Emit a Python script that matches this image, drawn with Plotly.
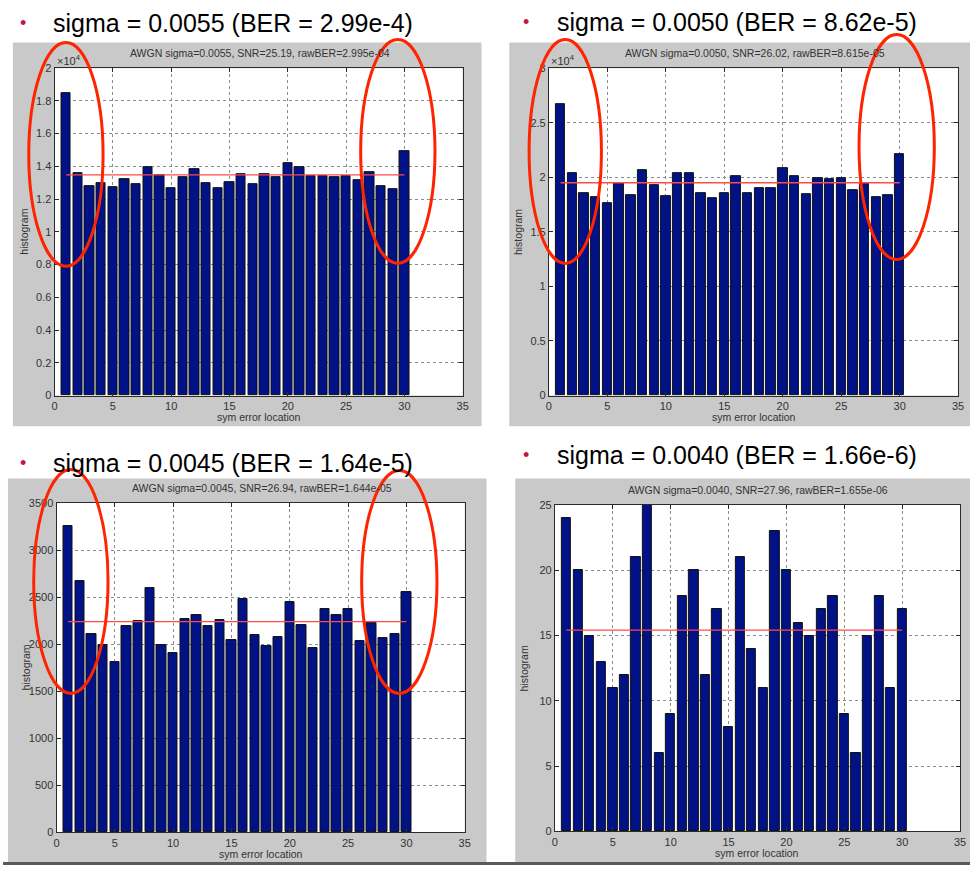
import plotly.graph_objects as go

W, H = 976, 871

# ---------------- data ----------------
positions = list(range(1, 31))

# sigma = 0.0055 (values shown in units of x10^4)
hist_s0055 = [1.85, 1.36, 1.278, 1.298, 1.272, 1.324, 1.292, 1.396, 1.346, 1.266,
              1.334, 1.386, 1.298, 1.27, 1.304, 1.354, 1.292, 1.354, 1.334, 1.418,
              1.398, 1.34, 1.34, 1.334, 1.34, 1.314, 1.362, 1.282, 1.258, 1.49]
# sigma = 0.0050 (values shown in units of x10^4)
hist_s0050 = [2.669, 2.04, 1.857, 1.815, 1.763, 1.95, 1.836, 2.07, 1.926, 1.827,
              2.034, 2.034, 1.857, 1.812, 1.857, 2.013, 1.857, 1.899, 1.905, 2.085,
              2.013, 1.842, 1.992, 1.98, 1.992, 1.884, 1.95, 1.821, 1.833, 2.209]
# sigma = 0.0045
hist_s0045 = [3258, 2667, 2107, 1995, 1810, 2195, 2247, 2600, 1995, 1907,
              2268, 2310, 2195, 2257, 2047, 2485, 2100, 1977, 2075, 2450,
              2208, 1963, 2373, 2310, 2373, 2037, 2222, 2065, 2110, 2555]
# sigma = 0.0040
hist_s0040 = [24, 20, 15, 13, 11, 12, 21, 25, 6, 9,
              18, 20, 12, 17, 8, 21, 14, 11, 23, 20,
              16, 15, 17, 18, 9, 6, 15, 18, 11, 17]

mean_levels = [1.348, 1.95, 2240, 15.42]

slide_titles = ["sigma = 0.0055 (BER = 2.99e-4)",
                "sigma = 0.0050 (BER = 8.62e-5)",
                "sigma = 0.0045 (BER = 1.64e-5)",
                "sigma = 0.0040 (BER = 1.66e-6)"]
plot_titles = ["AWGN sigma=0.0055, SNR=25.19, rawBER=2.995e-04",
               "AWGN sigma=0.0050, SNR=26.02, rawBER=8.615e-05",
               "AWGN sigma=0.0045, SNR=26.94, rawBER=1.644e-05",
               "AWGN sigma=0.0040, SNR=27.96, rawBER=1.655e-06"]
y_tops = [2, 3, 3500, 25]
y_steps = [0.2, 0.5, 500, 5]
x_top = 35
x_step = 5
x_label = "sym error location"
y_label = "histogram"
scale_label = "×10<sup>4</sup>"

series = [hist_s0055, hist_s0050, hist_s0045, hist_s0040]

# ---------------- layout geometry (pixels) ----------------
def px(x):
    return x / W

def py(y):
    return 1 - y / H

# plot areas: (left, right, top, bottom)
areas = [(52, 464, 63, 395), (551, 964, 63, 395), (54, 466, 504, 838), (557, 966, 506, 837)]
# gray figure panels
panels = [(10, 483, 37, 426), (511, 976, 37, 426), (5, 488, 479, 868), (517, 976, 479, 868)]
# slide title positions: (bullet x, text x, y)
title_pos = [(20, 48, 17), (528, 557, 16), (20, 48, 463), (528, 557, 455)]
# red ellipses (x0, x1, y0, y1)
ellipses = [(26, 101, 37, 264), (361, 436, 34, 261),
            (531, 604, 34, 261), (864, 940, 29, 257),
            (31, 106, 470, 697), (362, 438, 471, 697)]

FONT = "Liberation Sans, Arial, Helvetica, sans-serif"
BAR = "#001285"

fig = go.Figure()
shapes = []
annotations = []

for i in range(4):
    n = "" if i == 0 else str(i + 1)
    L, R, T, B = areas[i]
    fig.add_trace(go.Bar(x=positions, y=series[i], width=0.8,
                         marker=dict(color=BAR, line=dict(color="#111111", width=1)),
                         xaxis="x" + n, yaxis="y" + n, showlegend=False, hoverinfo="x+y"))
    fig.add_trace(go.Scatter(x=[positions[0], positions[-1]], y=[mean_levels[i]] * 2,
                             mode="lines", line=dict(color="#ff4a4a", width=1.3),
                             xaxis="x" + n, yaxis="y" + n, showlegend=False, hoverinfo="y"))
    common = dict(showgrid=True, gridcolor="#8c8c8c", griddash="dot", gridwidth=1,
                  showline=True, linecolor="#2b2b2b", linewidth=1, mirror="ticks",
                  ticks="inside", ticklen=4, tickcolor="#2b2b2b", zeroline=False,
                  tickfont=dict(size=11, color="#333333", family=FONT),
                  fixedrange=True, exponentformat="none", tick0=0)
    fig.update_layout(**{
        "xaxis" + n: dict(common, domain=[px(L), px(R)], range=[0, x_top], dtick=x_step,
                          anchor="y" + n),
        "yaxis" + n: dict(common, domain=[py(B), py(T)], range=[0, y_tops[i]], dtick=y_steps[i],
                          anchor="x" + n),
    })
    # gray panel and white plot area (drawn below gridlines)
    gx0, gx1, gy0, gy1 = panels[i]
    shapes.append(dict(type="rect", xref="paper", yref="paper", layer="below",
                       x0=px(gx0), x1=px(gx1), y0=py(gy1), y1=py(gy0),
                       fillcolor="#c9c9c9", line=dict(width=0)))
    shapes.append(dict(type="rect", xref="paper", yref="paper", layer="below",
                       x0=px(L), x1=px(R), y0=py(B), y1=py(T),
                       fillcolor="white", line=dict(width=0)))
    # slide titles
    bx, tx, ty = title_pos[i]
    annotations.append(dict(text="•", x=px(bx), y=py(ty), xref="paper", yref="paper",
                            xanchor="center", yanchor="middle", showarrow=False,
                            font=dict(size=18, color="#cc1440", family=FONT)))
    annotations.append(dict(text=slide_titles[i], x=px(tx), y=py(ty), xref="paper", yref="paper",
                            xanchor="left", yanchor="middle", showarrow=False,
                            font=dict(size=25, color="#000000", family=FONT)))
    # matlab title
    annotations.append(dict(text=plot_titles[i], x=px((L + R) / 2 + 1), y=py(T - 15),
                            xref="paper", yref="paper", xanchor="center", yanchor="middle",
                            showarrow=False, font=dict(size=10.5, color="#333333", family=FONT)))
    # axis labels
    annotations.append(dict(text=x_label, x=px((L + R) / 2), y=py(B + 22),
                            xref="paper", yref="paper", xanchor="center", yanchor="middle",
                            showarrow=False, font=dict(size=10.5, color="#333333", family=FONT)))
    annotations.append(dict(text=y_label, x=px(L - 31), y=py((T + B) / 2), textangle=-90,
                            xref="paper", yref="paper", xanchor="center", yanchor="middle",
                            showarrow=False, font=dict(size=10.5, color="#333333", family=FONT)))
    if i < 2:
        annotations.append(dict(text=scale_label, x=px(L), y=py(T - 8),
                                xref="paper", yref="paper", xanchor="left", yanchor="middle",
                                showarrow=False, font=dict(size=11, color="#333333", family=FONT)))

for (x0, x1, y0, y1) in ellipses:
    shapes.append(dict(type="circle", xref="paper", yref="paper", layer="above",
                       x0=px(x0), x1=px(x1), y0=py(y1), y1=py(y0),
                       line=dict(color="#ff2400", width=3)))

# slide bottom border
shapes.append(dict(type="rect", xref="paper", yref="paper", layer="below",
                   x0=0, x1=1, y0=0, y1=py(868), fillcolor="#5a5a5a", line=dict(width=0)))

fig.update_layout(width=W, height=H, margin=dict(l=0, r=0, t=0, b=0),
                  paper_bgcolor="white", plot_bgcolor="rgba(0,0,0,0)",
                  bargap=0, shapes=shapes, annotations=annotations,
                  font=dict(family=FONT))

fig.write_html("out.html", config={"displayModeBar": False},
               post_script="document.body.style.margin='0';document.body.style.overflow='hidden';")
